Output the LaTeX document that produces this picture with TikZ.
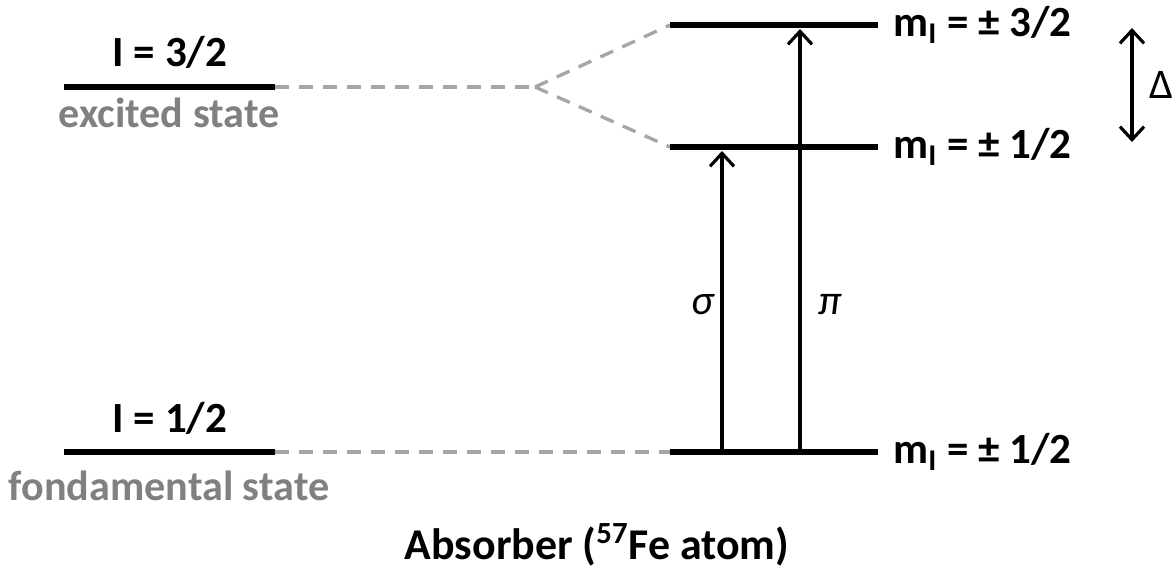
\documentclass[tikz,border=0pt]{standalone}
\usepackage{fontspec}
\setmainfont{Carlito}
\usetikzlibrary{arrows.meta,positioning,calc}
\definecolor{Ink}{HTML}{000000}
\definecolor{Muted}{HTML}{808080}
\definecolor{Link}{HTML}{A6A6A6}

\begin{document}
\begin{tikzpicture}[x=0.02cm,y=-0.02cm,>={Straight Barb[length=2.6mm,width=4.8mm,line width=1.8pt]}]
\tikzset{
  level/.style={Ink,line width=3.9pt},
  link/.style={Link,line width=1.9pt,dash pattern=on 0.28cm off 0.2cm},
  trans/.style={->,Ink,line width=1.8pt},
  lbl/.style={font=\fontsize{24.5}{28}\selectfont\bfseries,text=Ink,inner sep=0pt},
  sublbl/.style={font=\fontsize{24}{28}\selectfont\bfseries,text=Muted,inner sep=0pt},
  greek/.style={font=\fontsize{24}{28}\selectfont\itshape,text=Ink,inner sep=0pt}
}
\useasboundingbox (0,0) rectangle (1176,571);
% level end points
\coordinate (exL) at (64,87);
\coordinate (exR) at (275,87);
\coordinate (gsL) at (64,452);
\coordinate (gsR) at (275,452);
\coordinate (split) at (535,87);
\coordinate (hiL) at (670,25);
\coordinate (hiR) at (878,25);
\coordinate (loL) at (670,147);
\coordinate (loR) at (878,147);
\coordinate (gnL) at (670,452);
\coordinate (gnR) at (878,452);
% dashed links
\draw[link] (exR) -- (split);
\draw[link] (split) -- (hiL);
\draw[link] (split) -- (loL);
\draw[link] (gsR) -- (gnL);
% levels
\draw[level] (exL) -- (exR);
\draw[level] (gsL) -- (gsR);
\draw[level] (hiL) -- (hiR);
\draw[level] (loL) -- (loR);
\draw[level] (gnL) -- (gnR);
% transitions
\coordinate (sigB) at (722,452);
\coordinate (sigT) at (722,151);
\coordinate (piB) at (800,452);
\coordinate (piT) at (800,29);
\draw[trans] (sigB) -- (sigT);
\draw[trans] (piB) -- (piT);
\node[greek] (sig) at (703,305) {σ};
\node[greek] (pi) at (830,305) {π};
% splitting
\coordinate (dT) at (1132,28);
\coordinate (dB) at (1132,142);
\draw[<->,Ink,line width=1.8pt] (dT) -- (dB);
\node[font=\fontsize{24}{28}\selectfont,text=Ink,inner sep=0pt] (delta) at (1161,85) {Δ};
% labels left
\node[lbl] (exspin) at (170,52) {I = 3/2};
\node[sublbl] (exname) at (169,113) {excited state};
\node[lbl] (gsspin) at (170,418) {I = 1/2};
\node[sublbl] (gsname) at (169,486) {fondamental state};
% labels right
\node[lbl,anchor=west] (mhi) at (893,25) {m\textsubscript{I} = ± 3/2};
\node[lbl,anchor=west] (mlo) at (893,147) {m\textsubscript{I} = ± 1/2};
\node[lbl,anchor=west] (mgn) at (893,452) {m\textsubscript{I} = ± 1/2};
% caption
\node[lbl,font=\fontsize{25}{30}\selectfont\bfseries] (title) at (597,545) {Absorber (\textsuperscript{57}Fe atom)};
\end{tikzpicture}
\end{document}
